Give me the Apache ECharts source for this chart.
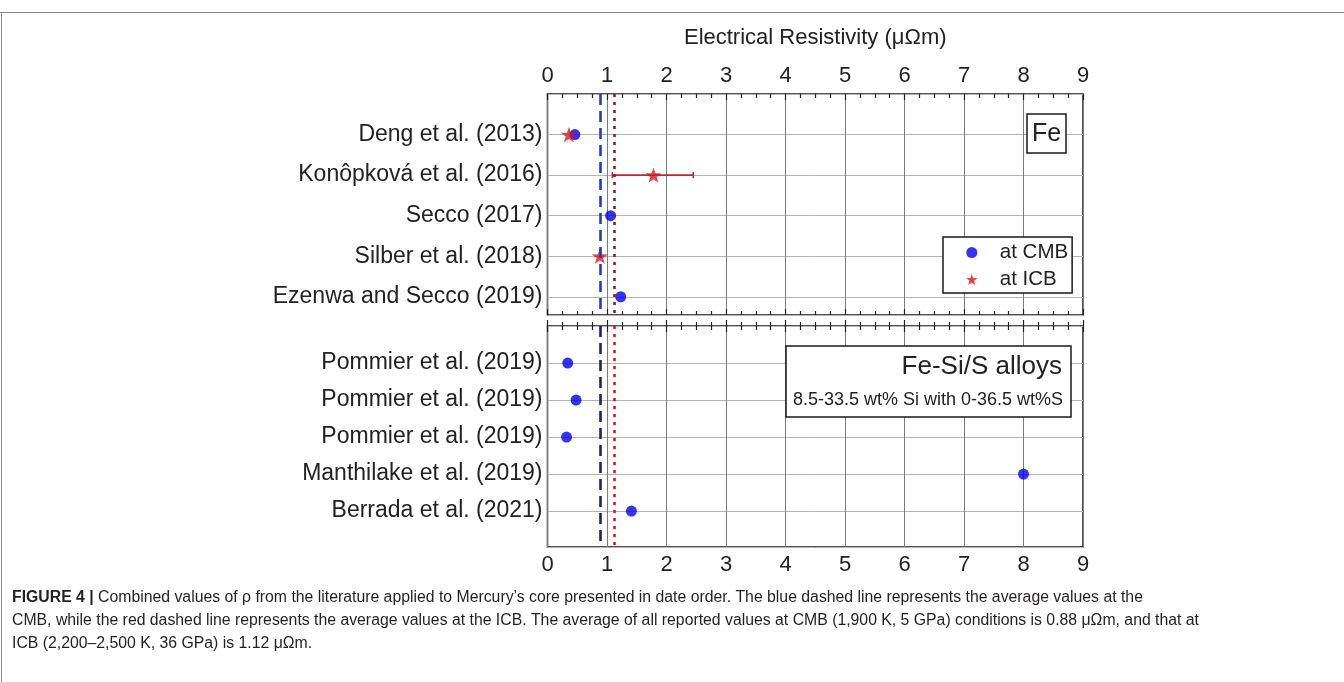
<!DOCTYPE html>
<html>
<head>
<meta charset="utf-8">
<script src="https://cdn.jsdelivr.net/npm/echarts@6/dist/echarts.min.js"></script>
<style>
  html, body { margin: 0; padding: 0; background: #fff; }
  #chart { width: 1344px; height: 682px; }
</style>
</head>
<body>
<div id="chart"></div>
<script>
// values (micro-ohm metre)
var feLabels = ['Deng et al. (2013)', 'Konôpková et al. (2016)', 'Secco (2017)', 'Silber et al. (2018)', 'Ezenwa and Secco (2019)'];
var feCmb = [0.46, null, 1.06, null, 1.23];
var feIcb = [0.36, 1.78, null, 0.88, null];
var feIcbLow = [null, 1.09, null, null, null];
var feIcbHigh = [null, 2.45, null, null, null];

var alloyLabels = ['Pommier et al. (2019)', 'Pommier et al. (2019)', 'Pommier et al. (2019)', 'Manthilake et al. (2019)', 'Berrada et al. (2021)'];
var alloyCmb = [0.34, 0.48, 0.32, 8.0, 1.41];

var avgCmb = 0.88;
var avgIcb = 1.12;

var xMin = 0, xMax = 9;

var font = '"Liberation Sans", Arial, sans-serif';

function starPath(n, r1, r2) {
    var p = [];
    for (var i = 0; i < n * 2; i++) {
        var r = i % 2 === 0 ? r1 : r2;
        var a = Math.PI * i / n - Math.PI / 2;
        p.push((i === 0 ? 'M' : 'L') + (r * Math.cos(a)).toFixed(2) + ' ' + (r * Math.sin(a)).toFixed(2));
    }
    return 'path://' + p.join(' ') + ' Z';
}
var star = starPath(5, 10, 4);

function toPoints(arr) {
    var out = [];
    for (var i = 0; i < arr.length; i++) {
        if (arr[i] != null) out.push([arr[i], i + 1]);
    }
    return out;
}

function errData() {
    var out = [];
    for (var i = 0; i < feIcbLow.length; i++) {
        if (feIcbLow[i] != null) out.push([feIcbLow[i], feIcbHigh[i], i + 1]);
    }
    return out;
}

function xAxisDef(gridIndex, pos, labels, grid) {
    return {
        type: 'value', gridIndex: gridIndex, position: pos,
        min: xMin, max: xMax, interval: 1,
        name: labels && pos === 'top' ? 'Electrical Resistivity (\u03bc\u03a9m)' : '',
        nameLocation: 'middle', nameGap: 45,
        nameTextStyle: { fontFamily: font, fontSize: 22, color: '#222' },
        axisLine: { show: false },
        axisTick: { show: true, inside: true, length: 6, lineStyle: { color: '#222', width: 1.2 } },
        minorTick: { show: true, splitNumber: 4, length: 4, lineStyle: { color: '#222', width: 1.2 } },
        axisLabel: { show: labels, margin: 7, fontFamily: font, fontSize: 22, color: '#222' },
        splitLine: { show: grid, lineStyle: { color: '#7c7c7c', width: 1 } }
    };
}

function yAxisDef(gridIndex, names, max) {
    return {
        type: 'value', gridIndex: gridIndex, inverse: true,
        min: 0, max: max, interval: 1,
        axisLine: { show: false },
        axisTick: { show: false },
        axisLabel: {
            margin: 5, fontFamily: font, fontSize: 23, color: '#222',
            formatter: function (v) { return names[v - 1] || ''; }
        },
        splitLine: { show: true, lineStyle: { color: '#b4b4b4', width: 1 } }
    };
}

function avgLines(xi, yi, blue, red) {
    return {
        type: 'scatter', xAxisIndex: xi, yAxisIndex: yi, data: [], z: 1, silent: true,
        markLine: {
            silent: true, symbol: 'none', label: { show: false },
            data: [
                { xAxis: avgCmb, lineStyle: { color: blue, type: [11, 6], width: 2.6 } },
                { xAxis: avgIcb, lineStyle: { color: red, type: [3, 5], width: 2.6 } }
            ]
        }
    };
}

var chart = echarts.init(document.getElementById('chart'));

var capSize = 15.8;

var option = {
    animation: false,
    backgroundColor: '#fff',
    grid: [
        { left: 547.5, top: 94, width: 535.5, height: 221, show: true, borderColor: '#1a1a1a', borderWidth: 1.5, backgroundColor: '#fff' },
        { left: 547.5, top: 326, width: 535.5, height: 221, show: true, borderColor: '#1a1a1a', borderWidth: 1.5, backgroundColor: '#fff' }
    ],
    xAxis: [
        xAxisDef(0, 'top', true, true),
        xAxisDef(0, 'bottom', false, false),
        xAxisDef(1, 'bottom', true, true),
        xAxisDef(1, 'top', false, false)
    ],
    yAxis: [
        yAxisDef(0, feLabels, 5.45),
        yAxisDef(1, alloyLabels, 5.97)
    ],
    legend: {
        left: 943, top: 237, orient: 'vertical',
        padding: [5, 4, 3, 23], itemGap: 6,
        itemWidth: 12, itemHeight: 11,
        borderColor: '#1a1a1a', borderWidth: 1.5, backgroundColor: '#fff',
        selectedMode: false,
        textStyle: { fontFamily: font, fontSize: 20.5, color: '#222', padding: [0, 0, 0, 17] },
        data: [
            { name: 'at CMB', icon: 'circle' },
            { name: 'at ICB', icon: star }
        ]
    },
    graphic: [
        { type: 'line', shape: { x1: 0, y1: 12.5, x2: 1344, y2: 12.5 }, style: { stroke: '#8a8a8a', lineWidth: 1 } },
        { type: 'line', shape: { x1: 1.5, y1: 12.5, x2: 1.5, y2: 682 }, style: { stroke: '#8a8a8a', lineWidth: 1 } },
        { type: 'rect', shape: { x: 1027, y: 114, width: 39, height: 39 }, style: { fill: '#fff', stroke: '#1a1a1a', lineWidth: 1.5 }, z: 10 },
        { type: 'text', x: 1046.5, y: 134, z: 11, style: { text: 'Fe', fontFamily: font, fontSize: 25, fill: '#222', align: 'center', verticalAlign: 'middle' } },
        { type: 'rect', shape: { x: 786, y: 346, width: 285, height: 71 }, style: { fill: '#fff', stroke: '#1a1a1a', lineWidth: 1.5 }, z: 10 },
        { type: 'text', x: 1062, y: 367, z: 11, style: { text: 'Fe-Si/S alloys', fontFamily: font, fontSize: 26, fill: '#222', align: 'right', verticalAlign: 'middle' } },
        { type: 'text', x: 928, y: 400, z: 11, style: { text: '8.5-33.5 wt% Si with 0-36.5 wt%S', fontFamily: font, fontSize: 18, fill: '#222', align: 'center', verticalAlign: 'middle' } },
        {
            type: 'text', left: 12, top: 590, z: 11,
            style: {
                text: '{b|FIGURE 4 |} Combined values of \u03c1 from the literature applied to Mercury\u2019s core presented in date order. The blue dashed line represents the average values at the',
                fontFamily: font, fontSize: capSize, fill: '#231f20',
                rich: { b: { fontFamily: font, fontSize: capSize, fontWeight: 'bold', fill: '#231f20' } }
            }
        },
        {
            type: 'text', left: 12, top: 613, z: 11,
            style: {
                text: 'CMB, while the red dashed line represents the average values at the ICB. The average of all reported values at CMB (1,900 K, 5 GPa) conditions is 0.88 \u03bc\u03a9m, and that at',
                fontFamily: font, fontSize: capSize, fill: '#231f20'
            }
        },
        {
            type: 'text', left: 12, top: 636, z: 11,
            style: {
                text: 'ICB (2,200\u20132,500 K, 36 GPa) is 1.12 \u03bc\u03a9m.',
                fontFamily: font, fontSize: capSize, fill: '#231f20'
            }
        }
    ],
    series: [
        avgLines(0, 0, '#1c3bd6', '#8e1f1f'),
        avgLines(2, 1, '#1a2470', '#e01414'),
        {
            type: 'custom', name: 'ICB range', xAxisIndex: 0, yAxisIndex: 0, z: 2, silent: true,
            data: errData(),
            renderItem: function (params, api) {
                var a = api.coord([api.value(0), api.value(2)]);
                var b = api.coord([api.value(1), api.value(2)]);
                var st = { stroke: '#d42020', lineWidth: 1.6 };
                return {
                    type: 'group',
                    children: [
                        { type: 'line', shape: { x1: a[0], y1: a[1], x2: b[0], y2: b[1] }, style: st },
                        { type: 'line', shape: { x1: a[0], y1: a[1] - 3, x2: a[0], y2: a[1] + 3 }, style: st },
                        { type: 'line', shape: { x1: b[0], y1: b[1] - 3, x2: b[0], y2: b[1] + 3 }, style: st }
                    ]
                };
            }
        },
        {
            type: 'scatter', name: 'at CMB', xAxisIndex: 0, yAxisIndex: 0, z: 3,
            symbol: 'circle', symbolSize: 11,
            itemStyle: { color: '#0000ee' },
            data: toPoints(feCmb)
        },
        {
            type: 'scatter', name: 'at ICB', xAxisIndex: 0, yAxisIndex: 0, z: 4,
            symbol: star, symbolSize: 16, symbolKeepAspect: true,
            itemStyle: { color: '#e0141c' },
            data: toPoints(feIcb)
        },
        {
            type: 'scatter', name: 'at CMB', xAxisIndex: 2, yAxisIndex: 1, z: 3,
            symbol: 'circle', symbolSize: 11,
            itemStyle: { color: '#0000ee' },
            data: toPoints(alloyCmb)
        }
    ]
};

chart.setOption(option);
</script>
</body>
</html>
